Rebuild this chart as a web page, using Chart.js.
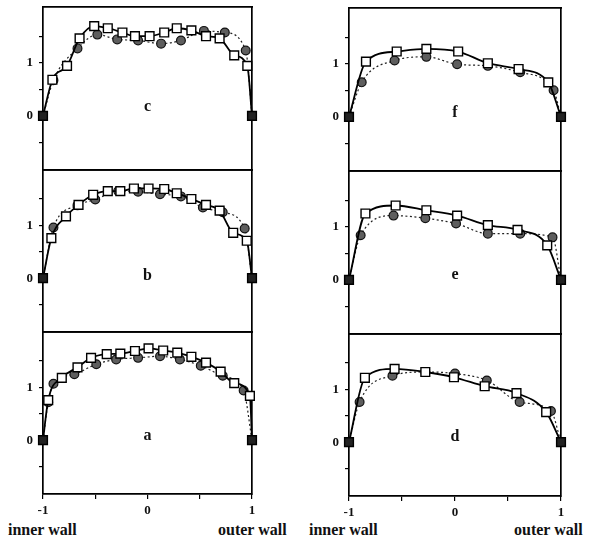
<!DOCTYPE html>
<html><head><meta charset="utf-8">
<script src="https://cdn.jsdelivr.net/npm/chart.js@4.4.1/dist/chart.umd.min.js"></script>
<style>
html,body{margin:0;padding:0;background:#fff;width:591px;height:545px;overflow:hidden;position:relative}
.lbl{position:absolute;font-family:"Liberation Serif",serif;font-weight:bold;font-size:16px;color:#111;white-space:nowrap;line-height:18px}
</style></head><body>
<div class="lbl" style="left:8px;top:521px">inner wall</div>
<div class="lbl" style="left:218px;top:521px">outer wall</div>
<div class="lbl" style="left:309px;top:521px">inner wall</div>
<div class="lbl" style="left:514px;top:521px">outer wall</div>
<script>
// ---- data ----
// panel c (left, top)
const cSquareX = [-1, -0.91, -0.77, -0.65, -0.51, -0.38, -0.24, -0.12, 0.02, 0.16, 0.28, 0.42, 0.56, 0.69, 0.83, 0.955, 1];
const cSquareY = [0, 0.68, 0.94, 1.46, 1.69, 1.65, 1.57, 1.50, 1.50, 1.57, 1.65, 1.61, 1.50, 1.46, 1.14, 0.94, 0];
const cCircleX = [-1, -0.90, -0.67, -0.48, -0.29, -0.09, 0.13, 0.32, 0.54, 0.74, 0.94, 1];
const cCircleY = [0, 0.67, 1.27, 1.53, 1.44, 1.42, 1.36, 1.42, 1.60, 1.57, 1.23, 0];
// panel b (left, middle)
const bSquareX = [-1, -0.92, -0.78, -0.66, -0.52, -0.38, -0.26, -0.13, 0.01, 0.16, 0.28, 0.42, 0.56, 0.69, 0.82, 0.95, 1];
const bSquareY = [0, 0.76, 1.17, 1.39, 1.58, 1.65, 1.65, 1.70, 1.70, 1.69, 1.61, 1.50, 1.39, 1.28, 0.86, 0.71, 0];
const bCircleX = [-1, -0.90, -0.67, -0.50, -0.28, -0.09, 0.12, 0.32, 0.53, 0.72, 0.93, 1];
const bCircleY = [0, 0.96, 1.38, 1.49, 1.65, 1.64, 1.59, 1.55, 1.34, 1.25, 0.94, 0];
// panel a (left, bottom)
const aSquareX = [-1, -0.95, -0.82, -0.67, -0.54, -0.39, -0.26, -0.12, 0.01, 0.15, 0.285, 0.42, 0.56, 0.70, 0.83, 0.98, 1];
const aSquareY = [0, 0.76, 1.18, 1.38, 1.56, 1.63, 1.64, 1.69, 1.74, 1.70, 1.66, 1.58, 1.47, 1.30, 1.08, 0.84, 0];
const aCircleX = [-1, -0.95, -0.90, -0.70, -0.49, -0.30, -0.09, 0.12, 0.31, 0.51, 0.72, 0.92, 1];
const aCircleY = [0, 0.72, 1.07, 1.25, 1.44, 1.53, 1.56, 1.59, 1.53, 1.41, 1.22, 0.94, 0];
// panel f (right, top)
const fSquareX = [-1, -0.84, -0.55, -0.27, 0.03, 0.31, 0.60, 0.88, 1];
const fSquareY = [0, 1.04, 1.23, 1.28, 1.23, 1.01, 0.90, 0.65, 0];
const fCircleX = [-1, -0.88, -0.57, -0.27, 0.02, 0.31, 0.615, 0.93, 1];
const fCircleY = [0, 0.65, 1.06, 1.13, 0.99, 0.96, 0.84, 0.50, 0];
// panel e (right, middle)
const eSquareX = [-1, -0.845, -0.56, -0.27, 0.02, 0.31, 0.59, 0.87, 1];
const eSquareY = [0, 1.25, 1.40, 1.31, 1.21, 1.03, 0.94, 0.65, 0];
const eCircleX = [-1, -0.89, -0.58, -0.28, 0.01, 0.31, 0.615, 0.92, 1];
const eCircleY = [0, 0.84, 1.21, 1.16, 1.06, 0.87, 0.87, 0.80, 0];
// panel d (right, bottom)
const dSquareX = [-1, -0.85, -0.57, -0.28, -0.01, 0.28, 0.58, 0.86, 1];
const dSquareY = [0, 1.22, 1.39, 1.33, 1.23, 1.06, 0.93, 0.57, 0];
const dCircleX = [-1, -0.90, -0.59, -0.28, 0.0, 0.30, 0.61, 0.905, 1];
const dCircleY = [0, 0.76, 1.26, 1.33, 1.30, 1.17, 0.76, 0.59, 0];

// ticks
const yTickValues = [-0.5, 0, 0.5, 1, 1.5];
const yTickLabels = {"0": "0", "1": "1"};
const xTickValues = [-1, -0.5, 0, 0.5, 1];
const xTickLabels = {"-1": "-1", "0": "0", "1": "1"};
const panelLetters = ['c', 'b', 'a', 'f', 'e', 'd'];

// ---- layout ----
const FONT = '"Liberation Serif", "DejaVu Serif", serif';
const panels = [
  {letter: panelLetters[0], sx: cSquareX, sy: cSquareY, cx: cCircleX, cy: cCircleY, col: 0, top: 7,   h: 163, bottom: false, ly: 0.10},
  {letter: panelLetters[1], sx: bSquareX, sy: bSquareY, cx: bCircleX, cy: bCircleY, col: 0, top: 170, h: 162, bottom: false, ly: -0.03},
  {letter: panelLetters[2], sx: aSquareX, sy: aSquareY, cx: aCircleX, cy: aCircleY, col: 0, top: 332, h: 162, bottom: true,  ly: 0.0},
  {letter: panelLetters[3], sx: fSquareX, sy: fSquareY, cx: fCircleX, cy: fCircleY, col: 1, top: 8,   h: 163, bottom: false, ly: 0.0},
  {letter: panelLetters[4], sx: eSquareX, sy: eSquareY, cx: eCircleX, cy: eCircleY, col: 1, top: 171, h: 163, bottom: false, ly: 0.02},
  {letter: panelLetters[5], sx: dSquareX, sy: dSquareY, cx: dCircleX, cy: dCircleY, col: 1, top: 334, h: 162, bottom: true,  ly: 0.03}
];
const cols = [
  {canvasLeft: 0,   chartLeft: 43,  chartRight: 252, width: 275},
  {canvasLeft: 306, chartLeft: 349, chartRight: 561, width: 285}
];

const letterPlugin = {
  id: 'panelLetter',
  afterDatasetsDraw(chart, args, opts) {
    const {ctx, scales} = chart;
    ctx.save();
    ctx.font = 'bold 16px ' + FONT;
    ctx.fillStyle = '#111';
    ctx.textAlign = 'center';
    ctx.textBaseline = 'alphabetic';
    ctx.fillText(opts.text, scales.x.getPixelForValue(0), scales.y.getPixelForValue(opts.y));
    ctx.restore();
  }
};

function zeroPad(s) { s.paddingTop = 0; s.paddingBottom = 0; s.paddingLeft = 0; s.paddingRight = 0; }

function makePanel(p) {
  const c = cols[p.col];
  const padTop = 8;
  const padBot = p.bottom ? 0 : 8;
  const xAxisH = p.bottom ? 30 : 0;
  const width = c.width;
  const height = padTop + p.h + padBot + xAxisH;
  const cv = document.createElement('canvas');
  cv.width = width; cv.height = height;
  cv.style.cssText = 'position:absolute;left:' + c.canvasLeft + 'px;top:' + (p.top - padTop) + 'px;width:' + width + 'px;height:' + height + 'px';
  document.body.appendChild(cv);
  const yAxisW = c.chartLeft - c.canvasLeft;
  const padRight = width - (c.chartRight - c.canvasLeft);
  const border = {display: true, color: '#000', width: 1.7};
  const lastSq = p.sx.length - 1;

  new Chart(cv, {
    type: 'line',
    data: {
      datasets: [
        {
          data: p.sx.map((x, i) => ({x: x, y: p.sy[i]})),
          borderColor: '#000', borderWidth: 1.8,
          pointStyle: 'rect', pointRadius: 6.2, pointBorderWidth: 1.4,
          pointBorderColor: '#000',
          pointBackgroundColor: ctx => (ctx.dataIndex === 0 || ctx.dataIndex === lastSq) ? '#222' : '#fff',
          cubicInterpolationMode: 'monotone', fill: false, clip: false, order: 0
        },
        {
          data: p.cx.map((x, i) => ({x: x, y: p.cy[i]})),
          borderColor: '#222', borderWidth: 1.2, borderDash: [2, 2.5],
          pointStyle: 'circle', pointRadius: 4.4, pointBorderWidth: 1.2,
          pointBorderColor: '#111', pointBackgroundColor: '#5e5e5e',
          cubicInterpolationMode: 'monotone', fill: false, clip: false, order: 1
        }
      ]
    },
    options: {
      responsive: false, animation: false, events: [],
      layout: {padding: {top: padTop, bottom: padBot, left: 0, right: padRight}},
      plugins: {legend: {display: false}, tooltip: {enabled: false}, title: {display: false},
                panelLetter: {text: p.letter, y: p.ly}},
      scales: {
        x: {
          type: 'linear', position: 'bottom', min: -1, max: 1,
          border: border,
          grid: {display: p.bottom, drawOnChartArea: false, drawTicks: true, tickLength: 5, color: '#000', lineWidth: 1.2},
          afterBuildTicks: s => { s.ticks = xTickValues.map(v => ({value: v})); },
          ticks: {display: p.bottom, autoSkip: false, maxRotation: 0, padding: 4, color: '#111',
                  font: {family: FONT, weight: 'bold', size: 13},
                  callback: v => xTickLabels[String(v)] || ''},
          afterFit: s => { s.height = xAxisH; zeroPad(s); }
        },
        x2: {
          type: 'linear', position: 'top', min: -1, max: 1,
          border: border, grid: {display: false}, ticks: {display: false},
          afterFit: s => { s.height = 0; zeroPad(s); }
        },
        y: {
          type: 'linear', position: 'left', min: -1.02, max: 2.05,
          border: border,
          grid: {display: true, drawOnChartArea: false, drawTicks: true, tickLength: 4, color: '#000', lineWidth: 1.2},
          afterBuildTicks: s => { s.ticks = yTickValues.map(v => ({value: v})); },
          ticks: {padding: 6, color: '#111', font: {family: FONT, weight: 'bold', size: 13},
                  callback: v => yTickLabels[String(v)] || ''},
          afterFit: s => { s.width = yAxisW; zeroPad(s); }
        },
        y2: {
          type: 'linear', position: 'right', min: -1.02, max: 2.05,
          border: border, grid: {display: false}, ticks: {display: false},
          afterFit: s => { s.width = 0; zeroPad(s); }
        }
      }
    },
    plugins: [letterPlugin]
  });
}

panels.forEach(makePanel);
</script>
</body></html>
